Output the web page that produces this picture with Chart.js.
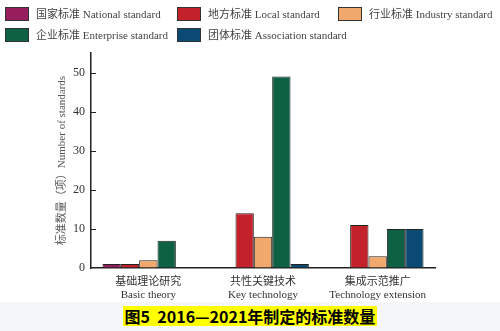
<!DOCTYPE html>
<html>
<head>
<meta charset="utf-8">
<script src="https://cdn.jsdelivr.net/npm/chart.js@4.4.1/dist/chart.umd.min.js"></script>
<style>
  body { margin:0; width:500px; height:331px; background:#fff; overflow:hidden;
         font-family:"Liberation Serif","Noto Sans CJK SC",serif; }
  #wrap { position:relative; width:500px; height:302px; }
  #legend { position:absolute; left:0; top:0; width:500px; height:48px; }
  .item { position:absolute; height:14px; font-size:11px; line-height:14px; color:#444; white-space:nowrap; }
  .box { position:absolute; left:0; top:0; width:22px; height:12px; border:1px solid #333; }
  .item span { position:absolute; left:31px; top:0; }
  #cap { height:29px; background:#f4f6f8; text-align:center; }
  #cap span { display:inline-block; margin-top:4px; background:#ff0; padding:0 2px;
              font:bold 16px "Noto Sans CJK SC",sans-serif; line-height:20px; color:#000; }
</style>
</head>
<body>
<div id="wrap">
  <canvas id="chart" width="500" height="302"></canvas>
  <div id="legend"></div>
</div>
<div id="cap"><span>图5&nbsp;&nbsp;2016—2021年制定的标准数量</span></div>
<script>
const categories = [['基础理论研究', 'Basic theory'], ['共性关键技术', 'Key technology'], ['集成示范推广', 'Technology extension']];
const seriesNames = ['国家标准 National standard', '地方标准 Local standard', '行业标准 Industry standard',
                     '企业标准 Enterprise standard', '团体标准 Association standard'];
const seriesColors = ['#961e5c', '#c3222b', '#f1a86c', '#0e6142', '#0b4a74'];

const national = [1, 0, 0];
const local = [1, 14, 11];
const industry = [2, 8, 3];
const enterprise = [7, 49, 10];
const association = [0, 1, 10];

const yTicks = [0, 10, 20, 30, 40, 50];
const yMax = 55;

const allSeries = [national, local, industry, enterprise, association];

// legend laid out in fixed columns like the figure
const legendPos = [[5, 7], [177, 7], [338, 7], [5, 28], [177, 28]];
const legend = document.getElementById('legend');
seriesNames.forEach((name, i) => {
  const it = document.createElement('div');
  it.className = 'item';
  it.style.left = legendPos[i][0] + 'px';
  it.style.top = legendPos[i][1] + 'px';
  it.innerHTML = '<div class="box" style="background:' + seriesColors[i] + '"></div><span>' + name + '</span>';
  legend.appendChild(it);
});

// small tick marks pointing into the plot
const inwardTicks = {
  id: 'inwardTicks',
  afterDraw(chart) {
    const y = chart.scales.y, ctx = chart.ctx, x0 = chart.chartArea.left;
    ctx.save();
    ctx.strokeStyle = '#222';
    ctx.lineWidth = 1;
    y.ticks.forEach(t => {
      if (t.value === 0) return;
      const py = Math.round(y.getPixelForValue(t.value)) + 0.5;
      ctx.beginPath();
      ctx.moveTo(x0, py);
      ctx.lineTo(x0 + 5, py);
      ctx.stroke();
    });
    ctx.restore();
  }
};

const ctx = document.getElementById('chart');

new Chart(ctx, {
  type: 'bar',
  data: {
    labels: categories,
    datasets: allSeries.map((d, i) => ({
      label: seriesNames[i],
      data: d,
      backgroundColor: seriesColors[i],
      borderColor: '#222',
      borderWidth: 1,
      categoryPercentage: 0.8,
      barPercentage: 1.0
    }))
  },
  options: {
    responsive: false,
    animation: false,
    layout: { padding: { left: 56, right: 65, top: 53, bottom: 0 } },
    plugins: {
      legend: { display: false },
      tooltip: { enabled: false }
    },
    scales: {
      x: {
        grid: { display: false },
        border: { display: true, color: '#222', width: 1.5 },
        ticks: {
          color: '#333', padding: 0, maxRotation: 0, autoSkip: false,
          font: { family: '"Liberation Serif","Noto Sans CJK SC",serif', size: 11, lineHeight: 1.15 }
        },
        afterFit: s => { s.height = 34; }
      },
      y: {
        min: 0,
        max: yMax,
        afterBuildTicks: s => { s.ticks = yTicks.map(v => ({ value: v })); },
        grid: { display: true, drawOnChartArea: false, drawTicks: false },
        border: { display: true, color: '#222', width: 1.5 },
        ticks: {
          color: '#333', padding: 6,
          font: { family: '"Liberation Serif",serif', size: 12 }
        },
        title: {
          display: true,
          text: '标准数量（项）Number of standards',
          color: '#555',
          padding: 0,
          font: { family: '"Liberation Serif","Noto Sans CJK SC",serif', size: 11 }
        },
        afterFit: s => { s.width = 35; }
      }
    }
  },
  plugins: [inwardTicks]
});
</script>
</body>
</html>
